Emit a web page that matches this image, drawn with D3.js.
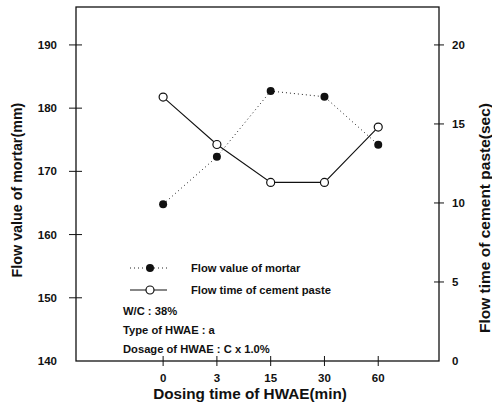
<!DOCTYPE html>
<html>
<head>
<meta charset="utf-8">
<script src="https://cdn.jsdelivr.net/npm/d3@7"></script>
<style>
  body { margin: 0; background: #fff; }
  text { font-family: "Liberation Sans", Arial, sans-serif; font-weight: bold; fill: #111; }
</style>
</head>
<body>
<div id="chartDiv"></div>
<script>
// data
const dosingTimes = ["0", "3", "15", "30", "60"];
const mortarFlow = [164.8, 172.3, 182.7, 181.8, 174.2];
const pasteFlowTime = [16.7, 13.7, 11.3, 11.3, 14.8];
const leftTicks = [140, 150, 160, 170, 180, 190];
const rightTicks = [0, 5, 10, 15, 20];
const notes = ["W/C : 38%", "Type of HWAE : a", "Dosage of HWAE : C x 1.0%"];

var canvasW = 492, canvasH = 409;
const svg = d3.select('#chartDiv').append('svg')
	.attr('width', canvasW).attr('height', canvasH);

const box = {left: 76, top: 7, right: 439, bottom: 361};

//scales
const x = d3.scaleLinear().domain([-1.62, 5.13]).range([box.left, box.right]);
const yL = d3.scaleLinear().domain([140, 196]).range([box.bottom, box.top]);
const yR = d3.scaleLinear().domain([0, 22.4]).range([box.bottom, box.top]);

// frame
svg.append('rect')
	.attr('x', box.left).attr('y', box.top)
	.attr('width', box.right - box.left).attr('height', box.bottom - box.top)
	.attr('fill', 'none').attr('stroke', '#111').attr('stroke-width', 1.3);

// left axis: cross ticks
const gl = svg.append('g');
gl.selectAll('line').data(leftTicks.slice(1)).enter().append('line')
	.attr('x1', box.left - 7).attr('x2', box.left + 6)
	.attr('y1', d => yL(d)).attr('y2', d => yL(d))
	.attr('stroke', '#111').attr('stroke-width', 1);
gl.selectAll('text').data(leftTicks).enter().append('text')
	.attr('x', 57).attr('y', d => yL(d) + 4)
	.attr('text-anchor', 'end').attr('font-size', 11.5)
	.text(d => d);

// right axis
const gr = svg.append('g');
gr.selectAll('line').data(rightTicks.slice(1)).enter().append('line')
	.attr('x1', box.right - 5).attr('x2', box.right + 5)
	.attr('y1', d => yR(d)).attr('y2', d => yR(d))
	.attr('stroke', '#111').attr('stroke-width', 1);
gr.selectAll('text').data(rightTicks).enter().append('text')
	.attr('x', 452).attr('y', d => yR(d) + 4)
	.attr('font-size', 11.5)
	.text(d => d);

// bottom axis
const gb = svg.append('g');
gb.selectAll('line').data(dosingTimes).enter().append('line')
	.attr('x1', (d, i) => x(i)).attr('x2', (d, i) => x(i))
	.attr('y1', box.bottom - 5).attr('y2', box.bottom + 5)
	.attr('stroke', '#111').attr('stroke-width', 1);
gb.selectAll('text').data(dosingTimes).enter().append('text')
	.attr('x', (d, i) => x(i)).attr('y', 382)
	.attr('text-anchor', 'middle').attr('font-size', 11.5)
	.text(d => d);

// axis titles
svg.append('text').attr('font-size', 15.3)
	.attr('text-anchor', 'middle')
	.attr('transform', `translate(250, 399)`)
	.text('Dosing time of HWAE(min)');
svg.append('text').attr('font-size', 14.3)
	.attr('text-anchor', 'middle')
	.attr('transform', `translate(22, 190) rotate(-90)`)
	.text('Flow value of mortar(mm)');
svg.append('text').attr('font-size', 15.5)
	.attr('text-anchor', 'middle')
	.attr('transform', `translate(490, 218) rotate(-90)`)
	.text('Flow time of cement paste(sec)');

// series
const lineL = d3.line().x((d, i) => x(i)).y(d => yL(d));
const lineR = d3.line().x((d, i) => x(i)).y(d => yR(d));

svg.append('path').datum(mortarFlow)
	.attr('d', lineL).attr('fill', 'none')
	.attr('stroke', '#222').attr('stroke-width', 1)
	.attr('stroke-dasharray', '1,3');
svg.append('path').datum(pasteFlowTime)
	.attr('d', lineR).attr('fill', 'none')
	.attr('stroke', '#111').attr('stroke-width', 1.1);

svg.append('g').selectAll('circle').data(mortarFlow).enter().append('circle')
	.attr('cx', (d, i) => x(i)).attr('cy', d => yL(d)).attr('r', 4)
	.attr('fill', '#111');
svg.append('g').selectAll('circle').data(pasteFlowTime).enter().append('circle')
	.attr('cx', (d, i) => x(i)).attr('cy', d => yR(d)).attr('r', 4)
	.attr('fill', '#fff').attr('stroke', '#111').attr('stroke-width', 1.2);

// legend
const leg = svg.append('g');
leg.append('line').attr('x1', 130).attr('x2', 167).attr('y1', 268).attr('y2', 268)
	.attr('stroke', '#222').attr('stroke-dasharray', '1,3');
leg.append('circle').attr('cx', 150).attr('cy', 268).attr('r', 4).attr('fill', '#111');
leg.append('text').attr('x', 191).attr('y', 272).attr('font-size', 11.2).text('Flow value of mortar');
leg.append('line').attr('x1', 130).attr('x2', 167).attr('y1', 290).attr('y2', 290)
	.attr('stroke', '#111').attr('stroke-width', 1.1);
leg.append('circle').attr('cx', 150).attr('cy', 290).attr('r', 4)
	.attr('fill', '#fff').attr('stroke', '#111').attr('stroke-width', 1.2);
leg.append('text').attr('x', 191).attr('y', 294).attr('font-size', 11.2).text('Flow time of cement paste');

leg.selectAll('text.note').data(notes).enter().append('text')
	.attr('class', 'note')
	.attr('x', 123).attr('y', (d, i) => 315 + i * 19)
	.attr('font-size', 11.2)
	.text(d => d);
</script>
</body>
</html>
